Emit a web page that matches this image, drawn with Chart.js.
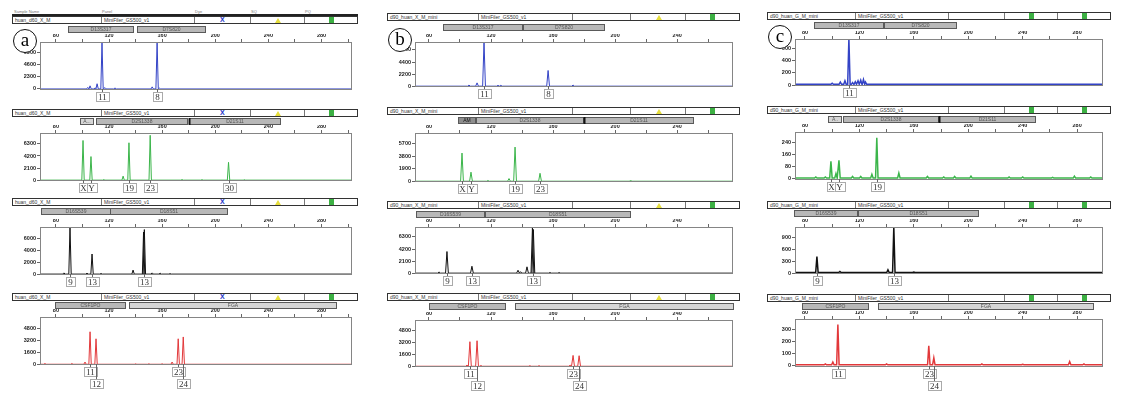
<!DOCTYPE html>
<html>
<head>
<meta charset="utf-8">
<script src="https://cdn.jsdelivr.net/npm/chart.js@4.4.0/dist/chart.umd.min.js"></script>
<style>
body{margin:0;background:#fff;width:1124px;height:397px;overflow:hidden;position:relative;font-family:'Liberation Sans',Arial,sans-serif}
.hdr{position:absolute;height:6px;border:1px solid #333;background:#fff}
.cell{position:absolute;top:0;height:6px;border-left:1px solid #777;font-size:5px;line-height:6px;color:#333;padding-left:2px;white-space:nowrap;overflow:hidden;box-sizing:border-box}
.cap{position:absolute;height:4px;border-bottom:2px solid #222;font-size:4px;line-height:4px;color:#777}
.tag{position:absolute;width:22px;height:22px;border:1px solid #111;border-radius:50%;font-family:'Liberation Serif',serif;font-size:19px;line-height:20px;text-align:center;background:#fff;z-index:5}
.tri{position:absolute;top:1px;width:0;height:0;border-left:3px solid transparent;border-right:3px solid transparent;border-bottom:5px solid #e6de3c}
.sq{position:absolute;top:0;width:5px;height:6px;background:#3cb043}
.xm{position:absolute;top:-1px;font-size:7px;line-height:7px;font-weight:bold;color:#2434c8}
canvas{position:absolute}
</style>
</head>
<body>
<script>
// peaks: [size in bp, height in RFU]
const blueA  = [[104,300],[105.7,600],[109.5,200],[111,1000],[114.7,8800],[117,250],[124.5,200],[152.5,400],[156.2,8800],[158,150]]
const greenA = [[100.4,6900],[106.4,4100],[116,100],[130.6,700],[135,6500],[151,7800],[175,100],[190,80],[210,3100],[222,80]]
const blackA = [[86,200],[90.6,7800],[103.4,150],[107.2,3340],[114,100],[138.1,670],[146,7000],[146.6,7400],[152.5,200],[158.5,150],[166,80]]
const redA   = [[71.7,100],[92,100],[101.9,300],[105.7,4400],[110.2,3450],[140,60],[150,60],[160,60],[167.5,300],[172.1,3450],[175.9,3700]]

const blueB  = [[105.8,200],[111,600],[115.5,8000],[124.5,150],[126.3,150],[156.8,2860],[172.9,200]]
const greenB = [[101.3,4260],[107.1,1370],[118,100],[131.6,400],[135.5,5170],[151.6,1200],[210,100]]
const blackB = [[86.5,200],[91.6,3760],[107.7,1200],[137.4,500],[139,250],[143.2,1100],[146.7,7900],[147.3,7600],[158,100],[164,100]]
const redB   = [[104.5,150],[106.4,3330],[111,3460],[113.5,100],[145,80],[151,80],[171,150],[172.9,1470],[176.8,1430]]

const blueC  = [[100,30],[106,50],[109.4,70],[112.3,760],[115,40],[117,55],[119,70],[121,80],[123,90],[124.5,50]]
const greenC = [[88,12],[95,12],[99.1,117],[102.8,35],[105,123],[115,15],[121,15],[129.2,30],[132.8,273],[149,38],[170,15],[182,12],[190,15],[202,18],[230,12],[240,12],[262,10],[278,18],[290,12]]
const blackC = [[88.8,410],[105.7,40],[141,80],[145.3,1150],[160,25]]
const redC   = [[95,15],[100.5,30],[104.2,340],[140,15],[171,165],[174.7,65],[210,15],[240,12],[274.5,35],[285,15]]

// allele calls: [label, size, row under the trace]
const allelesA = [
  [['11',114.7,0],['8',156.2,0]],
  [['X',100.4,0],['Y',106.4,0],['19',135,0],['23',151,0],['30',210,0]],
  [['9',90.6,0],['13',107.2,0],['13',146.4,0]],
  [['11',105.7,0],['12',110.2,1],['23',172.1,0],['24',175.9,1]]
]
const allelesB = [
  [['11',115.5,0],['8',156.8,0]],
  [['X',101.3,0],['Y',107.1,0],['19',135.5,0],['23',151.6,0]],
  [['9',91.6,0],['13',107.7,0],['13',147,0]],
  [['11',106.4,0],['12',111,1],['23',172.9,0],['24',176.8,1]]
]
const allelesC = [
  [['11',112.3,0]],
  [['X',99.1,0],['Y',105,0],['19',132.8,0]],
  [['9',88.8,0],['13',145.3,0]],
  [['11',104.2,0],['23',171,0],['24',174.7,1]]
]

// marker bins: [locus, from bp, to bp]
const lociA = [
  [['D13S317',89,138],['D7S820',141,192]],
  [['A...',98,108],['D2S1338',110,179],['D21S11',180,249]],
  [['D16S539',68.7,120.8],['D18S51',120.8,209]],
  [['CSF1PO',79.2,132],['FGA',135,290.6]]
]
const lociB = [
  [['D13S317',89,140],['D7S820',140.6,192.9]],
  [['AM',98.7,109.7],['D2S1338',110.3,179.3],['D21S11',180,250.3]],
  [['D16S539',71.6,115.5],['D18S51',116.1,209.6]],
  [['CSF1PO',80,129],['FGA',135.5,276]]
]
const lociC = [
  [['D13S317',86.6,137.3],['D7S820',138,190.8]],
  [['A..',96.9,106.4],['D2S1338',107.9,177.6],['D21S11',178.4,248.8]],
  [['D16S539',71.9,118.2],['D18S51',118.9,207]],
  [['CSF1PO',77.8,126.2],['FGA',133.6,291.4]]
]

const yTicksA = [[0,2300,4600,6900],[0,2100,4200,6300],[0,2000,4000,6000],[0,1600,3200,4800]]
const yTicksB = [[0,2200,4400,6600],[0,1900,3800,5700],[0,2100,4200,6300],[0,1600,3200,4800]]
const yTicksC = [[0,200,400,600],[0,80,160,240],[0,300,600,900],[0,100,200,300]]
const yRangeA = [[-200,9000],[-150,8200],[-150,7830],[-100,6400]]
const yRangeB = [[-150,8050],[-120,7300],[-150,8030],[-100,6270]]
const yRangeC = [[-15,750],[-8,312],[-25,1150],[-10,385]]
const baseC = [12,5,12,8]
const sizeTicks = [60,80,100,120,140,160,180,200,220,240,260,280,300]

const dyeColors = ['#3343c6','#3bb54a','#111111','#e2383a']

const cols = [
  {hl:12, hr:356, pl:40, pr:352, xmin:68, xmax:303, sample:'huan_d60_X_M', icons:['xm','tri','sq'], tag:'a', tx:13, ty:29,
   peaks:[blueA,greenA,blackA,redA], alleles:allelesA, loci:lociA, yt:yTicksA, yr:yRangeA, base:[0,0,0,0], lw:1,
   rows:[[16,26,42,90],[109,118,133,181],[198,208,227,275],[293,302,317,365]]},
  {hl:387, hr:738, pl:415, pr:733, xmin:71, xmax:276, sample:'d90_huan_X_M_mini', icons:['','tri','sq'], tag:'b', tx:388, ty:28,
   peaks:[blueB,greenB,blackB,redB], alleles:allelesB, loci:lociB, yt:yTicksB, yr:yRangeB, base:[0,0,0,0], lw:1,
   rows:[[13,24,42,87],[107,117,133,182],[201,211,227,274],[293,303,320,367]]},
  {hl:767, hr:1109, pl:795, pr:1103, xmin:72.7, xmax:299, sample:'d90_huan_G_M_mini', icons:['','sq','sq'], tag:'c', tx:768, ty:25,
   peaks:[blueC,greenC,blackC,redC], alleles:allelesC, loci:lociC, yt:yTicksC, yr:yRangeC, base:baseC, lw:1.5,
   rows:[[12,22,39,86],[106,116,132,180],[201,210,227,274],[294,303,319,367]]}
]
const cellEdges = [0, 0.255, 0.525, 0.69, 0.845, 1]

function trace(peaks, xmin, xmax, base){
  let pts = [{x: xmin, y: base}]
  peaks.forEach(([s, h]) => {
    pts.push({x: s - 0.9, y: base}, {x: s, y: h}, {x: s + 0.9, y: base})
  })
  pts.push({x: xmax, y: base})
  return pts
}

const decor = {
  id: 'decor',
  afterDraw(chart, args, o){
    const ctx = chart.ctx, a = chart.chartArea, x = chart.scales.x
    ctx.save()
    ctx.lineWidth = 1
    ctx.strokeStyle = '#858585'
    ctx.strokeRect(a.left + 0.5, a.top + 0.5, a.right - a.left - 1, a.bottom - a.top - 1)

    ctx.font = '5px "Liberation Sans"'
    ctx.textAlign = 'center'
    ctx.textBaseline = 'middle'
    o.loci.forEach(([name, s0, s1]) => {
      let x0 = Math.round(x.getPixelForValue(s0)) + 0.5
      let x1 = Math.round(x.getPixelForValue(s1)) + 0.5
      ctx.fillStyle = name == 'AM' ? '#8e8e8e' : name.length < 5 ? '#d6d6d6' : '#b8b8b8'
      ctx.fillRect(x0, 1.5, x1 - x0, 6)
      ctx.strokeStyle = '#5a5a5a'
      ctx.strokeRect(x0, 1.5, x1 - x0, 6)
      if (name == 'D21S11') {
        ctx.fillStyle = '#111'
        ctx.fillRect(x0 - 1, 1, 2, 7)
      }
      ctx.fillStyle = name == 'AM' ? '#111' : '#555'
      ctx.fillText(name, (x0 + x1) / 2, 4.8)
    })

    ctx.font = '9px "Liberation Serif"'
    o.alleles.forEach(([txt, s, lvl]) => {
      let px = Math.round(x.getPixelForValue(s)) + 0.5
      let cy = a.bottom + 7 + lvl * 12
      let w = Math.round(ctx.measureText(txt).width) + 4
      ctx.strokeStyle = '#666'
      ctx.beginPath()
      ctx.moveTo(px, a.bottom - 1)
      ctx.lineTo(px, cy - 4.5)
      ctx.stroke()
      ctx.fillStyle = '#fff'
      ctx.fillRect(px - w / 2, cy - 4.5, w, 9)
      ctx.strokeStyle = '#aaa'
      ctx.strokeRect(Math.round(px - w / 2) + 0.5, cy - 4.5, w, 9)
      ctx.fillStyle = '#333'
      ctx.fillText(txt, px, cy + 0.5)
    })
    ctx.restore()
  }
}

function addHeader(c, top, withCaption){
  let w = c.hr - c.hl
  if (withCaption) {
    let cap = document.createElement('div')
    cap.className = 'cap'
    cap.style.left = c.hl + 'px'; cap.style.top = (top - 6) + 'px'; cap.style.width = (w + 2) + 'px'
    ;['Sample Name','Panel','Dye','SQ','PQ'].forEach((t, i) => {
      let s = document.createElement('span')
      s.style.position = 'absolute'
      s.style.left = Math.round(cellEdges[i] * w + 2) + 'px'
      s.textContent = t
      cap.appendChild(s)
    })
    document.body.appendChild(cap)
  }
  let h = document.createElement('div')
  h.className = 'hdr'
  h.style.left = c.hl + 'px'; h.style.top = top + 'px'; h.style.width = w + 'px'
  for (let i = 0; i < 5; i++) {
    let cell = document.createElement('div')
    cell.className = 'cell'
    let l = Math.round(cellEdges[i] * w), r = Math.round(cellEdges[i + 1] * w)
    cell.style.left = l + 'px'; cell.style.width = (r - l) + 'px'
    if (i == 0) { cell.style.borderLeft = 'none'; cell.textContent = c.sample }
    if (i == 1) cell.textContent = 'MiniFiler_GS500_v1'
    let icon = c.icons[i - 2]
    if (icon) {
      let m = document.createElement('div')
      m.className = icon
      if (icon == 'xm') m.textContent = 'X'
      m.style.left = Math.round((r - l) / 2 - 3) + 'px'
      cell.appendChild(m)
    }
    h.appendChild(cell)
  }
  document.body.appendChild(h)
}

cols.forEach(c => {
  let tag = document.createElement('div')
  tag.className = 'tag'
  tag.style.left = c.tx + 'px'; tag.style.top = c.ty + 'px'
  tag.textContent = c.tag
  document.body.appendChild(tag)

  c.rows.forEach(([hTop, mTop, pTop, pBot], r) => {
    addHeader(c, hTop, c.tag == 'a' && r == 0)

    let left = c.pl - 30, top = mTop - 1
    let cv = document.createElement('canvas')
    cv.width = c.pr + 3 - left
    cv.height = pBot + 30 - top
    cv.style.left = left + 'px'; cv.style.top = top + 'px'
    document.body.appendChild(cv)

    const yt = c.yt[r]
    const tickFont = {size: 5.5, family: 'Liberation Sans', weight: 'bold'}
    new Chart(cv.getContext('2d'), {
      type: 'line',
      data: {
        datasets: [{
          data: trace(c.peaks[r], c.xmin, c.xmax, c.base[r]),
          borderColor: dyeColors[r],
          borderWidth: c.lw,
          pointRadius: 0,
          tension: 0,
          fill: false
        }]
      },
      options: {
        responsive: false,
        animation: false,
        layout: {padding: {left: 0, right: 3, top: pTop - top - 8, bottom: 30}},
        plugins: {
          legend: {display: false},
          tooltip: {enabled: false},
          decor: {loci: c.loci[r], alleles: c.alleles[r]}
        },
        scales: {
          x: {
            type: 'linear', position: 'top', min: c.xmin, max: c.xmax,
            grid: {drawOnChartArea: false, tickLength: 3, color: '#666'},
            border: {display: false},
            ticks: {font: tickFont, color: '#222', padding: 0, maxRotation: 0, autoSkip: false,
              callback: v => v % 40 == 0 ? String(v) : ''},
            afterBuildTicks: s => { s.ticks = sizeTicks.filter(v => v >= c.xmin && v <= c.xmax).map(v => ({value: v})) },
            afterFit: s => { s.height = 8 }
          },
          y: {
            min: c.yr[r][0], max: c.yr[r][1],
            grid: {drawOnChartArea: false, tickLength: 3, color: '#666'},
            border: {display: false},
            ticks: {font: tickFont, color: '#222', padding: 1, callback: v => String(v)},
            afterBuildTicks: s => { s.ticks = yt.map(v => ({value: v})) },
            afterFit: s => { s.width = 30 }
          }
        }
      },
      plugins: [decor]
    })
  })
})
</script>
</body>
</html>
